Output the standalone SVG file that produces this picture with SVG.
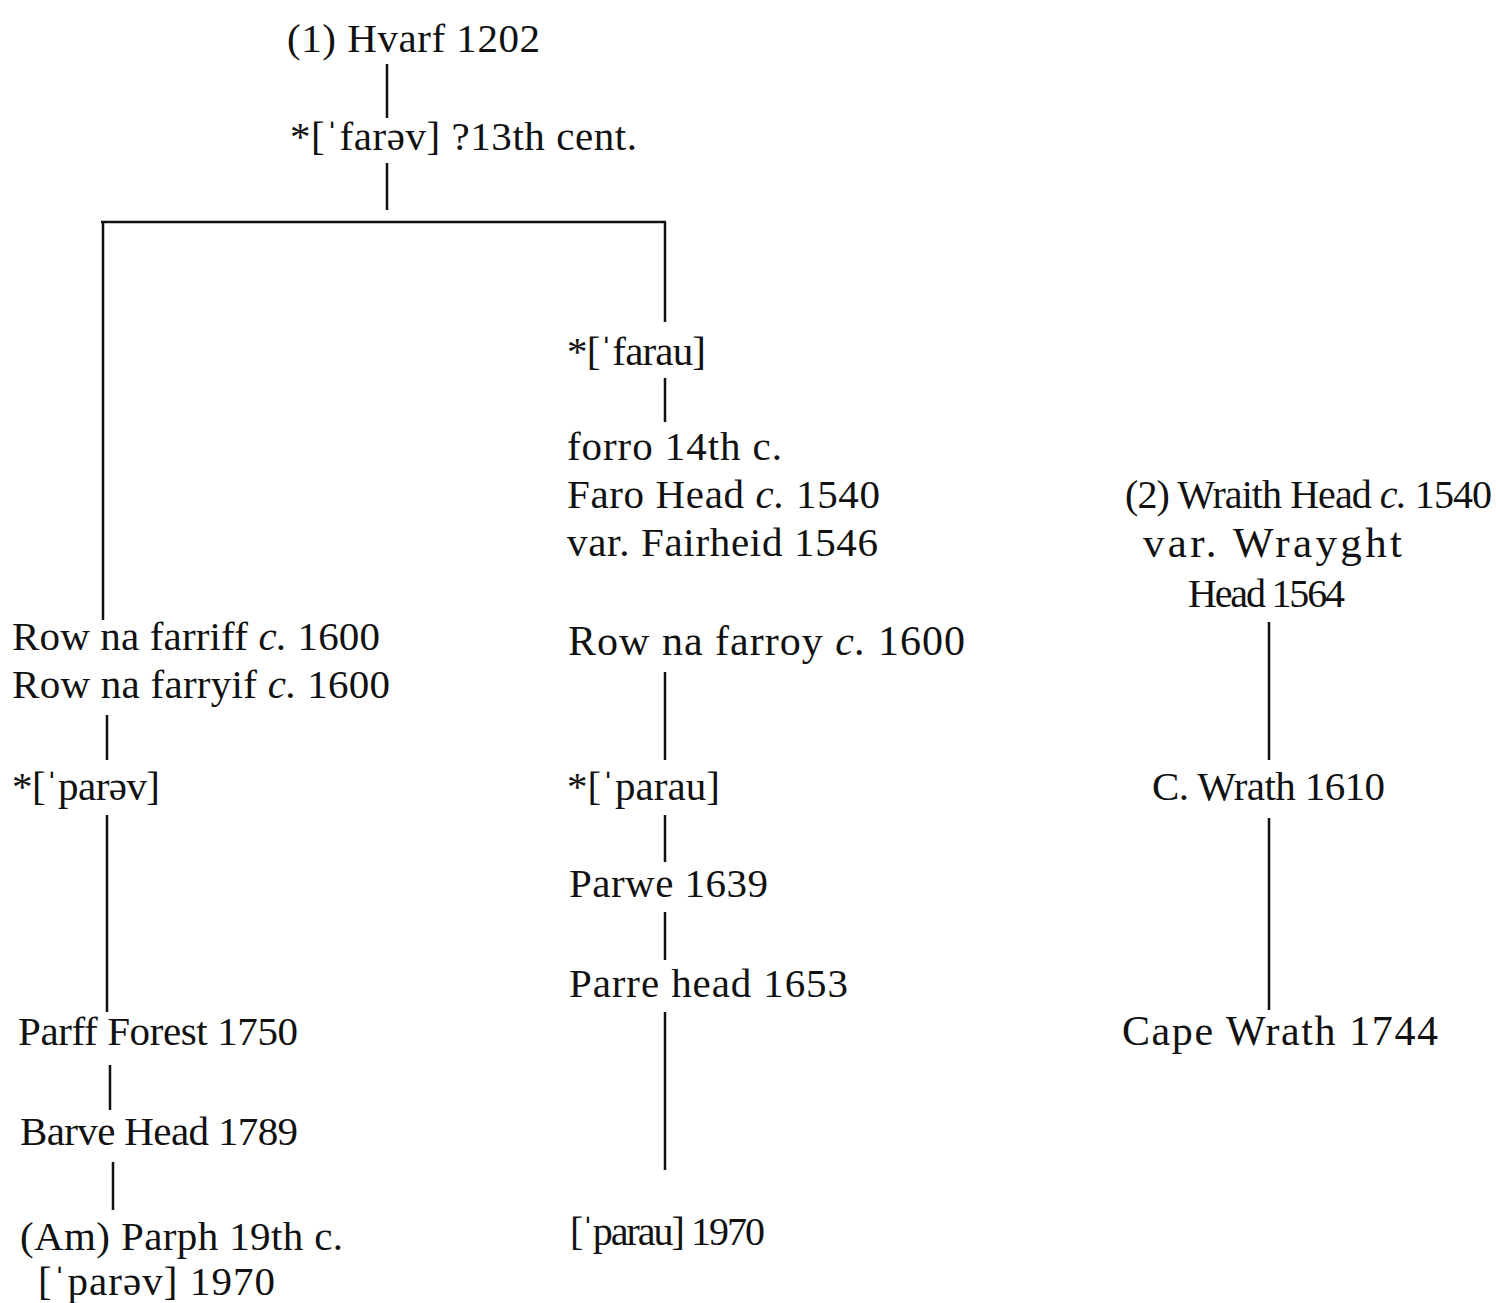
<svg xmlns="http://www.w3.org/2000/svg" width="1496" height="1303" viewBox="0 0 1496 1303">
<style>
text{font-family:"Liberation Serif","DejaVu Serif",serif;font-size:41px;fill:#111}
.i{font-style:italic}
.c line{stroke:#111;stroke-width:2.5;fill:none}
</style>
<rect width="1496" height="1303" fill="#fff"/>
<g class="c" id="connectors">
<line x1="387" y1="64" x2="387" y2="118"/>
<line x1="387" y1="163" x2="387" y2="210"/>
<line x1="101" y1="222" x2="666" y2="222"/>
<line x1="103" y1="222" x2="103" y2="620"/>
<line x1="665" y1="222" x2="665" y2="322"/>
<line x1="665" y1="378" x2="665" y2="422"/>
<line x1="665" y1="672" x2="665" y2="760"/>
<line x1="665" y1="815" x2="665" y2="862"/>
<line x1="665" y1="912" x2="665" y2="960"/>
<line x1="665" y1="1012" x2="665" y2="1170"/>
<line x1="107" y1="715" x2="107" y2="760"/>
<line x1="107" y1="815" x2="107" y2="1012"/>
<line x1="110" y1="1065" x2="110" y2="1110"/>
<line x1="113" y1="1162" x2="113" y2="1210"/>
<line x1="1269" y1="622" x2="1269" y2="760"/>
<line x1="1269" y1="818" x2="1269" y2="1010"/>
</g>
<g id="n1"><text x="287" y="52" textLength="253">(1) Hvarf 1202</text></g>
<g id="n2"><text x="290" y="150" textLength="347">*[ˈfarəv] ?13th cent.</text></g>
<g id="n3"><text x="567" y="365" textLength="139">*[ˈfarau]</text></g>
<g id="n4"><text x="567" y="460" textLength="215">forro 14th c.</text><text x="567" y="508" textLength="313">Faro Head <tspan class="i">c.</tspan> 1540</text><text x="567" y="556" textLength="311">var. Fairheid 1546</text></g>
<g id="n5"><text x="568" y="655" textLength="397" style="font-size:42px">Row na farroy <tspan class="i">c.</tspan> 1600</text></g>
<g id="n6"><text x="567" y="800" textLength="153">*[ˈparau]</text></g>
<g id="n7"><text x="569" y="897" textLength="199">Parwe 1639</text></g>
<g id="n8"><text x="569" y="997" textLength="279">Parre head 1653</text></g>
<g id="n9"><text x="570" y="1245" textLength="195" style="font-size:40px">[ˈparau] 1970</text></g>
<g id="n10"><text x="12" y="650" textLength="368">Row na farriff <tspan class="i">c.</tspan> 1600</text><text x="12" y="698" textLength="378">Row na farryif <tspan class="i">c.</tspan> 1600</text></g>
<g id="n11"><text x="12" y="800" textLength="148">*[ˈparəv]</text></g>
<g id="n12"><text x="18" y="1045" textLength="280">Parff Forest 1750</text></g>
<g id="n13"><text x="20" y="1145" textLength="278">Barve Head 1789</text></g>
<g id="n14"><text x="20" y="1250" textLength="323">(Am) Parph 19th c.</text><text x="38" y="1295" textLength="237">[ˈparəv] 1970</text></g>
<g id="n15"><text x="1125" y="508" textLength="367" style="font-size:40px">(2) Wraith Head <tspan class="i">c.</tspan> 1540</text><text x="1143" y="557" textLength="259" style="font-size:43px">var. Wrayght</text><text x="1188" y="607" textLength="157" style="font-size:40px">Head 1564</text></g>
<g id="n16"><text x="1152" y="800" textLength="233">C. Wrath 1610</text></g>
<g id="n17"><text x="1122" y="1045" textLength="316" style="font-size:42px">Cape Wrath 1744</text></g>
</svg>
